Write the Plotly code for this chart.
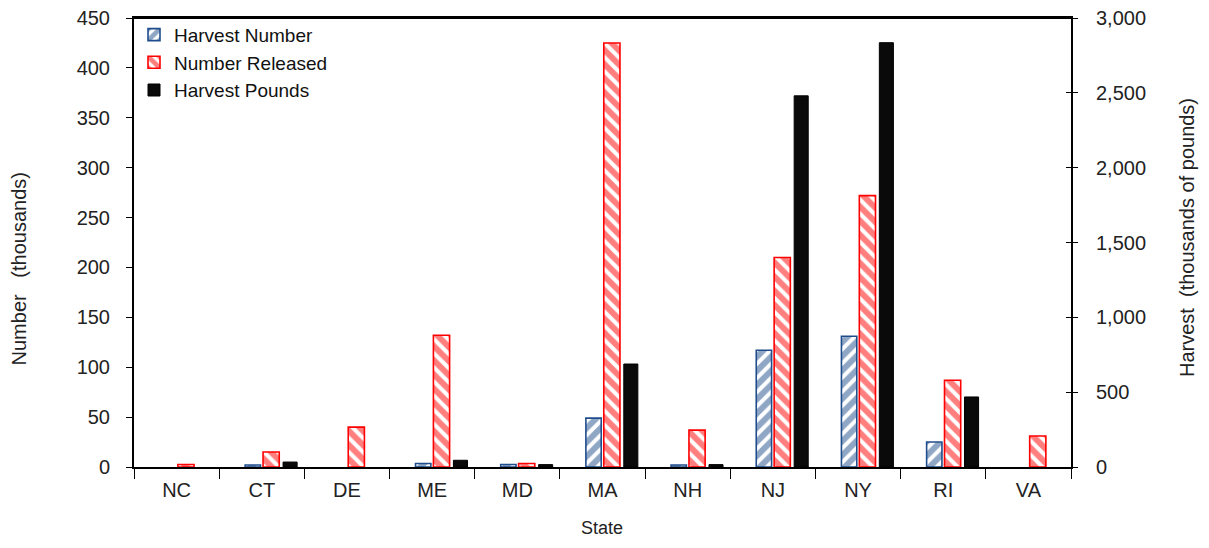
import plotly.graph_objects as go

states = ["NC", "CT", "DE", "ME", "MD", "MA", "NH", "NJ", "NY", "RI", "VA"]
harvest_number = [None, 2, None, 3.5, 2.5, 49, 2, 117, 131, 25, None]
number_released = [2.5, 15, 40, 132, 3.5, 425, 37, 210, 272, 87, 31]
harvest_pounds = [None, 33, None, 45, 16, 688, 16, 2480, 2835, 468, None]

FONT = "Liberation Sans, Arial, sans-serif"
BLUE = "#1F4D8C"
RED = "#FF0000"
TXT = "#222222"

fig = go.Figure()
fig.add_trace(go.Bar(
    name="Harvest Number", x=states, y=harvest_number,
    width=0.18, offset=-0.195,
    marker=dict(color="white", line=dict(color=BLUE, width=1.6),
                pattern=dict(shape="/", fgcolor=BLUE, bgcolor="white", size=10, solidity=0.6)),
    yaxis="y"))
fig.add_trace(go.Bar(
    name="Number Released", x=states, y=number_released,
    width=0.19, offset=0.015,
    marker=dict(color="white", line=dict(color=RED, width=1.6),
                pattern=dict(shape="\\", fgcolor=RED, bgcolor="white", size=10, solidity=0.6)),
    yaxis="y"))
fig.add_trace(go.Bar(
    name="Harvest Pounds", x=states, y=harvest_pounds,
    width=0.165, offset=0.25,
    marker=dict(color="#0A0A0A", line=dict(color="#000000", width=1)),
    yaxis="y2"))

# the page body has an 8px margin, so the figure is sized and offset to fit the window
fig.update_layout(
    width=1193, height=532,
    margin=dict(l=126, r=130, t=10, b=73, autoexpand=False),
    paper_bgcolor="white", plot_bgcolor="white",
    barmode="overlay",
    font=dict(family=FONT, size=20, color=TXT),
    showlegend=True,
    legend=dict(x=0.0, y=1.005, xanchor="left", yanchor="top",
                bgcolor="rgba(0,0,0,0)", font=dict(size=19, color="#111111"),
                tracegroupgap=0, itemwidth=30),
    xaxis=dict(
        type="category", tickson="boundaries", automargin=False,
        showline=True, linecolor="black", linewidth=2, mirror=True,
        ticks="outside", ticklen=10, tickwidth=1, tickcolor="black",
        ticklabelstandoff=4,
        tickfont=dict(size=20), showgrid=False,
        range=[-0.5, 10.5]),
    yaxis=dict(
        range=[0, 450], dtick=50, showgrid=False, zeroline=False, automargin=False,
        showline=True, linecolor="black", linewidth=2,
        ticks="outside", ticklen=6, tickcolor="black", ticklabelstandoff=12,
        ticklabeloverflow="allow",
        tickfont=dict(size=20)),
    yaxis2=dict(
        overlaying="y", side="right", automargin=False,
        range=[0, 3000], dtick=500, tickformat=",", showgrid=False, zeroline=False,
        showline=True, linecolor="black", linewidth=2,
        ticks="outside", ticklen=5, tickcolor="black", ticklabelstandoff=14,
        ticklabeloverflow="allow",
        tickfont=dict(size=20)),
    yaxis3=dict(
        overlaying="y", side="right", automargin=False,
        range=[0, 3000], dtick=500, showgrid=False, zeroline=False,
        showline=False, showticklabels=False,
        ticks="inside", ticklen=5, tickcolor="black"),
    shapes=[
        dict(type="line", xref="paper", yref="paper", x0=0, x1=1, y0=1, y1=1,
             line=dict(color="black", width=2)),
    ],
    annotations=[
        dict(text="Number   (thousands)", xref="paper", yref="paper",
             x=-0.1227, y=0.44, xanchor="center", yanchor="middle",
             textangle=-90, showarrow=False, font=dict(size=20, color=TXT)),
        dict(text="Harvest  (thousands of pounds)", xref="paper", yref="paper",
             x=1.1238, y=0.51, xanchor="center", yanchor="middle",
             textangle=-90, showarrow=False, font=dict(size=20, color=TXT)),
        dict(text="State", xref="paper", yref="paper",
             x=0.4996, y=-0.136, xanchor="center", yanchor="middle",
             showarrow=False, font=dict(size=18, color=TXT)),
    ],
)
# invisible trace to activate the crossing-tick axis
fig.add_trace(go.Scatter(x=[states[0]], y=[0], yaxis="y3", mode="markers",
                         marker=dict(opacity=0), showlegend=False, hoverinfo="skip"))

fig.write_html("out.html")
